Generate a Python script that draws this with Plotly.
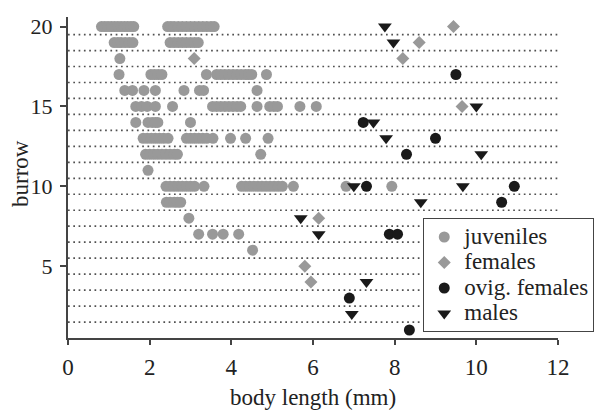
import plotly.graph_objects as go

# ---------------- data ----------------
juv_x = [0.82, 0.9, 0.98, 1.06, 1.14, 1.22, 1.3, 1.38, 1.46, 1.54, 1.61,
         2.44, 2.52, 2.6, 2.7, 2.8, 2.9, 3.0, 3.1, 3.2, 3.3, 3.4, 3.5, 3.58,
         1.13, 1.22, 1.3, 1.4, 1.5, 1.59, 2.5, 2.6, 2.7, 2.8, 2.9, 3.0, 3.1, 3.19,
         1.27,
         1.25, 2.03, 2.12, 2.21, 2.3, 3.39, 3.64, 3.74, 3.84, 3.94, 4.04, 4.14, 4.24, 4.34, 4.42, 4.5, 4.86,
         1.39, 1.58, 1.86, 2.14, 2.84, 3.22, 3.32, 4.63,
         1.66, 1.8, 1.94, 2.14, 2.56, 3.54, 3.64, 3.74, 3.84, 3.94, 4.04, 4.14, 4.23, 4.63, 4.94, 5.04, 5.13, 5.68, 6.08,
         1.66, 1.96, 2.06, 2.14, 2.2, 3.0,
         1.84, 1.94, 2.04, 2.14, 2.24, 2.34, 2.45, 2.9, 3.0, 3.1, 3.2, 3.3, 3.4, 3.55, 3.98, 4.35, 4.9,
         1.9, 2.0, 2.1, 2.2, 2.3, 2.4, 2.5, 2.6, 2.68, 4.72,
         1.96,
         2.4, 2.5, 2.6, 2.7, 2.8, 2.9, 3.0, 3.1, 3.33, 4.25, 4.35, 4.45, 4.55, 4.65, 4.75, 4.85, 4.95, 5.05, 5.15, 5.25, 5.52, 6.81, 7.93,
         2.41, 2.5, 2.6, 2.68, 2.76,
         2.96,
         3.2, 3.54, 3.8, 4.18,
         4.52]
juv_y = [20] * 24 + [19] * 14 + [18] * 1 + [17] * 17 + [16] * 8 + [15] * 19 + [14] * 6 + \
        [13] * 17 + [12] * 10 + [11] * 1 + [10] * 23 + [9] * 5 + [8] * 1 + [7] * 4 + [6] * 1

fem_x = [9.44, 8.6, 3.09, 8.2, 9.65, 6.14, 5.8, 5.95]
fem_y = [20, 19, 18, 18, 15, 8, 5, 4]

ovig_x = [9.5, 7.23, 9.0, 8.29, 7.31, 10.93, 10.62, 7.87, 8.07, 6.89, 8.36]
ovig_y = [17, 14, 13, 12, 10, 10, 9, 7, 7, 3, 1]

male_x = [7.76, 7.97, 10.0, 7.48, 7.79, 10.12, 7.0, 9.67, 8.64, 5.7, 6.14, 7.31, 6.95]
male_y = [20, 19, 15, 14, 13, 12, 10, 10, 9, 8, 7, 4, 2]

separators = [1.5, 2.5, 3.5, 4.5, 5.5, 6.5, 7.5, 8.5, 9.5, 10.5,
              11.5, 12.5, 13.5, 14.5, 15.5, 16.5, 17.5, 18.5, 19.5]

x_ticks = [0, 2, 4, 6, 8, 10, 12]
y_ticks = [5, 10, 15, 20]

series_names = ["juveniles", "females", "ovig. females", "males"]

# ---------------- figure ----------------
FONT = "Liberation Serif"
GRAY = "#999999"
BLACK = "#1a1a1a"
TXT = "#222222"


def legend_name(s):
    return '<span style="font-size:23px">' + s + '</span>'


fig = go.Figure()

for s in separators:
    fig.add_shape(type="line", xref="x", yref="y", x0=0, x1=12, y0=s, y1=s,
                  line=dict(color="#505050", width=1.7, dash="1.7px,3.6px"), layer="below")

fig.add_trace(go.Scatter(x=juv_x, y=juv_y, mode="markers", name=legend_name(series_names[0]),
                         marker=dict(symbol="circle", size=11, color=GRAY, line=dict(width=0))))
fig.add_trace(go.Scatter(x=fem_x, y=fem_y, mode="markers", name=legend_name(series_names[1]),
                         marker=dict(symbol="diamond", size=10, color=GRAY, line=dict(width=0))))
fig.add_trace(go.Scatter(x=ovig_x, y=ovig_y, mode="markers", name=legend_name(series_names[2]),
                         marker=dict(symbol="circle", size=11, color=BLACK, line=dict(width=0))))
fig.add_trace(go.Scatter(x=male_x, y=male_y, mode="markers", name=legend_name(series_names[3]),
                         marker=dict(symbol="triangle-down", size=12, color=BLACK, line=dict(width=0))))

fig.update_layout(
    width=599, height=410,
    margin=dict(l=68, r=41, t=17, b=72, autoexpand=False),
    paper_bgcolor="white", plot_bgcolor="white",
    font=dict(family=FONT, size=23, color=TXT),
    showlegend=True,
    legend=dict(x=0.725, y=0.373, xanchor="left", yanchor="top",
                bgcolor="white", bordercolor="#444444", borderwidth=1,
                font=dict(family=FONT, size=17.3, color=TXT),
                itemwidth=30, tracegroupgap=0),
    xaxis=dict(range=[0, 12], tickvals=x_ticks, showgrid=False, zeroline=False,
               showline=True, linecolor="#444444", linewidth=2,
               ticks="outside", ticklen=5, tickcolor="#444444", tickwidth=1.5,
               ticklabelstandoff=2, automargin=False,
               tickfont=dict(family=FONT, size=23, color=TXT)),
    yaxis=dict(range=[0.5, 20.6], tickvals=y_ticks, showgrid=False, zeroline=False,
               showline=True, linecolor="#444444", linewidth=2,
               ticks="outside", ticklen=6, tickcolor="#444444", tickwidth=1.5,
               ticklabelstandoff=3, automargin=False,
               tickfont=dict(family=FONT, size=22, color=TXT)),
    annotations=[
        dict(text="body length (mm)", xref="paper", yref="paper", x=0.5, y=-0.184,
             xanchor="center", yanchor="middle", showarrow=False,
             font=dict(family=FONT, size=23, color=TXT)),
        dict(text="burrow", xref="paper", yref="paper", x=-0.097, y=0.5125,
             xanchor="center", yanchor="middle", showarrow=False, textangle=-90,
             font=dict(family=FONT, size=23, color=TXT)),
    ],
)

fig.write_html("out.html", config={"displayModeBar": False})

# remove the default page margin so the figure sits at the window's top-left corner
with open("out.html", "r", encoding="utf-8") as f:
    page = f.read()
page = page.replace("<head>", "<head><style>html,body{margin:0;padding:0;overflow:hidden;}</style>", 1)
with open("out.html", "w", encoding="utf-8") as f:
    f.write(page)
